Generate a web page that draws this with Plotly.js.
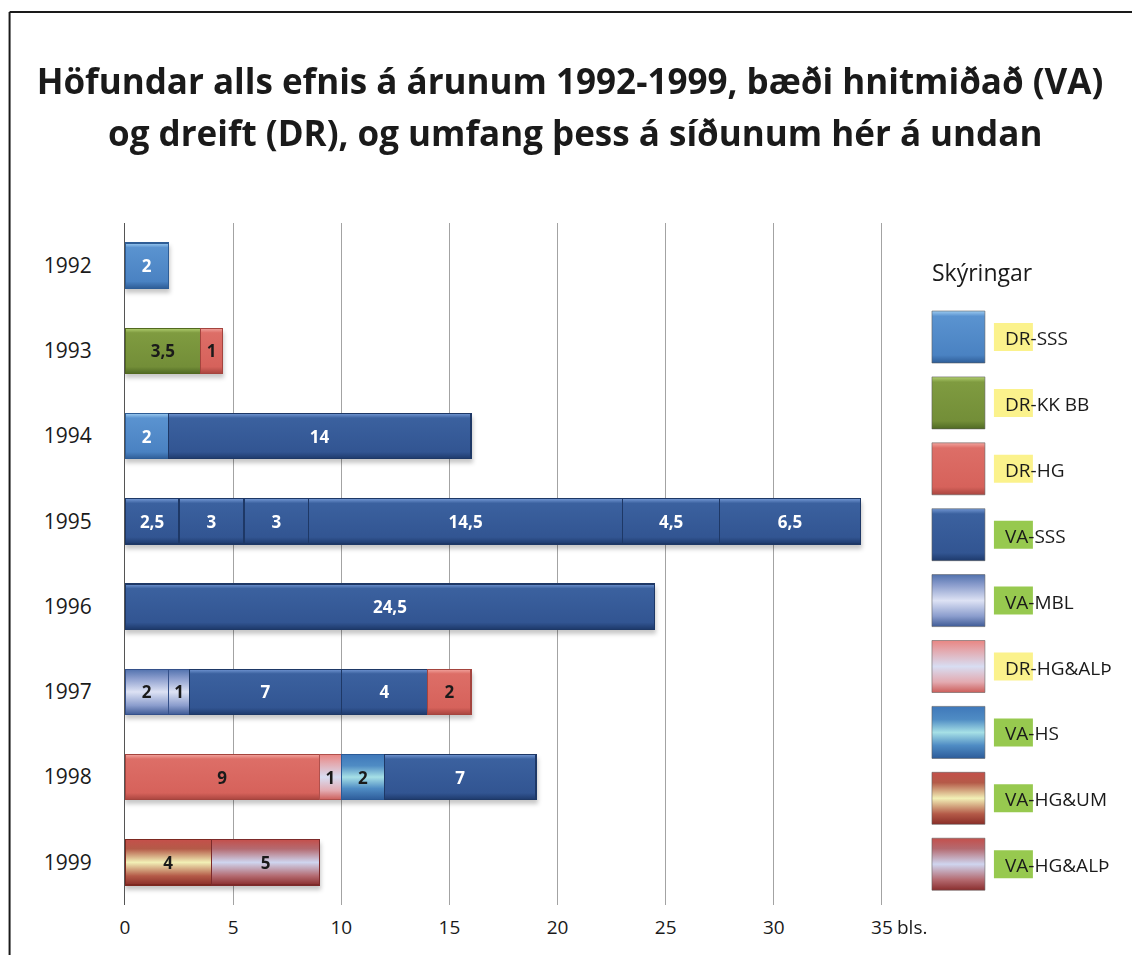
<!DOCTYPE html>
<html>
<head>
<meta charset="utf-8">
<script src="https://cdn.plot.ly/plotly-3.0.1.min.js"></script>
<style>
  html, body { margin: 0; padding: 0; background: #ffffff; }
  #chart { width: 1132px; height: 955px; }
</style>
</head>
<body>
<div id="chart"></div>
<script>
// ---------------- DATA ----------------
const years = ['1992', '1993', '1994', '1995', '1996', '1997', '1998', '1999'];
const seriesNames = ['DR-SSS', 'DR-KK BB', 'DR-HG', 'VA-SSS', 'VA-MBL', 'DR-HG&ALÞ', 'VA-HS', 'VA-HG&UM', 'VA-HG&ALÞ'];

// segments of each bar, left to right: values and the series each one belongs to
const val1992 = [2];                          const ser1992 = ['DR-SSS'];
const val1993 = [3.5, 1];                     const ser1993 = ['DR-KK BB', 'DR-HG'];
const val1994 = [2, 14];                      const ser1994 = ['DR-SSS', 'VA-SSS'];
const val1995 = [2.5, 3, 3, 14.5, 4.5, 6.5];  const ser1995 = ['VA-SSS', 'VA-SSS', 'VA-SSS', 'VA-SSS', 'VA-SSS', 'VA-SSS'];
const val1996 = [24.5];                       const ser1996 = ['VA-SSS'];
const val1997 = [2, 1, 7, 4, 2];              const ser1997 = ['VA-MBL', 'VA-MBL', 'VA-SSS', 'VA-SSS', 'DR-HG'];
const val1998 = [9, 1, 2, 7];                 const ser1998 = ['DR-HG', 'DR-HG&ALÞ', 'VA-HS', 'VA-SSS'];
const val1999 = [4, 5];                       const ser1999 = ['VA-HG&UM', 'VA-HG&ALÞ'];

const xTickVals = [0, 5, 10, 15, 20, 25, 30, 35];
const xTickText = ['0', '5', '10', '15', '20', '25', '30', '35'];
const xUnit = 'bls.';
const titleLine1 = 'Höfundar alls efnis á árunum 1992-1999, bæði hnitmiðað (VA)';
const titleLine2 = 'og dreift (DR), og umfang þess á síðunum hér á undan';
const legendTitle = 'Skýringar';

// ---------------- STYLE ----------------
const styles = {
  'DR-SSS':    { base: '#4f87c6', text: '#ffffff', edge: '#2e5d96', stops: [[0, '#9ccaf0'], [0.1, '#5a93d0'], [0.85, '#4a82c2'], [1, '#2f5e98']] },
  'DR-KK BB':  { base: '#77923b', text: '#1a1a1a', edge: '#52691f', stops: [[0, '#b2d070'], [0.1, '#7f9b40'], [0.85, '#738e38'], [1, '#506a24']] },
  'DR-HG':     { base: '#d9665f', text: '#1a1a1a', edge: '#a4443e', stops: [[0, '#f2a49e'], [0.1, '#dd6e67'], [0.85, '#d6625b'], [1, '#a9453f']] },
  'VA-SSS':    { base: '#345895', text: '#ffffff', edge: '#1e3866', stops: [[0, '#7196d2'], [0.1, '#3b619f'], [0.85, '#325592'], [1, '#1e3a6c']] },
  'VA-MBL':    { base: '#7d8fc3', text: '#1a1a1a', edge: '#34508a', stops: [[0, '#5272ae'], [0.2, '#8b9dcd'], [0.5, '#dde2f4'], [0.8, '#8b9dcd'], [1, '#3f5b96']] },
  'DR-HG&ALÞ': { base: '#e09a9c', text: '#1a1a1a', edge: '#b0504c', stops: [[0, '#e98683'], [0.2, '#e3aab0'], [0.5, '#d8ddf2'], [0.8, '#e3aab0'], [1, '#cc5e5a']] },
  'VA-HS':     { base: '#5b9ac8', text: '#1a1a1a', edge: '#2a5a96', stops: [[0, '#3f78ba'], [0.25, '#4f8cc4'], [0.5, '#a6e0e6'], [0.75, '#4f8cc4'], [1, '#2d5c9a']] },
  'VA-HG&UM':  { base: '#c8805c', text: '#1a1a1a', edge: '#7c2820', stops: [[0, '#c4504a'], [0.2, '#b45a48'], [0.5, '#f2f0b6'], [0.8, '#b45a48'], [1, '#8a2e28']] },
  'VA-HG&ALÞ': { base: '#b07884', text: '#1a1a1a', edge: '#7c2a2a', stops: [[0, '#c4504c'], [0.2, '#b46a70'], [0.5, '#cfd5ef'], [0.8, '#b46a70'], [1, '#8a2e2e']] }
};
const highlight = { DR: '#fbf28c', VA: '#97c94f' };
const FONT = 'Open Sans, Noto Sans, sans-serif';

// plot area in page pixels (layout only)
const PL = 124.5, PR = 883, PT = 223, PB = 905;
const W = 1132, H = 955;
const px = v => (v - PL) / (PR - PL);
const py = v => (PB - v) / (PB - PT);

// ---------------- TRACES ----------------
const valsByYear = [val1992, val1993, val1994, val1995, val1996, val1997, val1998, val1999];
const serByYear  = [ser1992, ser1993, ser1994, ser1995, ser1996, ser1997, ser1998, ser1999];
const nLayers = Math.max(...valsByYear.map(a => a.length));
const fmt = v => String(v).replace('.', ',');

const traces = [];
for (let k = 0; k < nLayers; k++) {
  const x = [], color = [], edge = [], text = [], tcol = [];
  years.forEach((yr, j) => {
    const v = valsByYear[j][k];
    const s = serByYear[j][k];
    if (v === undefined) {
      x.push(null); color.push('#ffffff'); edge.push('rgba(0,0,0,0)'); text.push(''); tcol.push('#000');
    } else {
      x.push(v); color.push(styles[s].base); edge.push(styles[s].edge); text.push(fmt(v)); tcol.push(styles[s].text);
    }
  });
  traces.push({
    type: 'bar', orientation: 'h', y: years, x: x,
    width: 0.53,
    marker: { color: color, line: { color: edge, width: 1.2 } },
    text: text, textposition: 'inside', insidetextanchor: 'middle', textangle: 0,
    constraintext: 'none',
    textfont: { family: FONT, size: 17, weight: 700, color: tcol },
    hoverinfo: 'skip', showlegend: false
  });
}

// ---------------- LEGEND (shapes + annotations) ----------------
const shapes = [];
const annotations = [];
const legendTop = 337, legendStep = 65.9;
seriesNames.forEach((name, i) => {
  const c = legendTop + i * legendStep;
  shapes.push({ type: 'rect', xref: 'paper', yref: 'paper', layer: 'above',
    x0: px(932), x1: px(985), y0: py(c + 26), y1: py(c - 26),
    fillcolor: styles[name].base, line: { color: 'rgba(90,90,90,0.55)', width: 1 } });
  const pre = name.split('-')[0];
  shapes.push({ type: 'rect', xref: 'paper', yref: 'paper', layer: 'above',
    x0: px(994), x1: px(1033), y0: py(c + 14), y1: py(c - 14),
    fillcolor: highlight[pre], line: { width: 0 } });
  annotations.push({ xref: 'paper', yref: 'paper', x: px(1003), y: py(c + 1),
    xanchor: 'left', yanchor: 'middle', showarrow: false, text: name,
    font: { family: FONT, size: 19, color: '#1a1a1a' } });
});
annotations.push({ xref: 'paper', yref: 'paper', x: px(930), y: py(272),
  xanchor: 'left', yanchor: 'middle', showarrow: false, text: legendTitle,
  font: { family: FONT, size: 23, color: '#1a1a1a' } });

// unit after the last x tick
annotations.push({ xref: 'x', yref: 'paper', x: xTickVals[xTickVals.length - 1], y: py(927),
  xanchor: 'left', yanchor: 'middle', xshift: 13, showarrow: false, text: xUnit,
  font: { family: FONT, size: 19, color: '#1a1a1a' } });

// second title line
annotations.push({ xref: 'paper', yref: 'paper', x: px(575), y: py(133),
  xanchor: 'center', yanchor: 'middle', showarrow: false, text: titleLine2,
  font: { family: FONT, size: 35, weight: 700, color: '#1a1a1a' } });

// outer frame (top and left edges visible)
shapes.push({ type: 'line', xref: 'paper', yref: 'paper', layer: 'above',
  x0: px(9), x1: px(1140), y0: py(12), y1: py(12), line: { color: '#1a1a1a', width: 2 } });
shapes.push({ type: 'line', xref: 'paper', yref: 'paper', layer: 'above',
  x0: px(9), x1: px(9), y0: py(12), y1: py(965), line: { color: '#1a1a1a', width: 2 } });

const layout = {
  width: W, height: H,
  paper_bgcolor: '#ffffff', plot_bgcolor: '#ffffff',
  margin: { l: PL, r: W - PR, t: PT, b: H - PB, pad: 0 },
  barmode: 'stack',
  showlegend: false,
  title: { text: titleLine1, xref: 'container', yref: 'container', x: 570 / W, xanchor: 'center',
    y: 1 - 82 / H, yanchor: 'middle', font: { family: FONT, size: 35, weight: 700, color: '#1a1a1a' } },
  xaxis: {
    range: [0, 35.05], tickmode: 'array', tickvals: xTickVals, ticktext: xTickText,
    showgrid: true, gridcolor: '#a3a3a3', gridwidth: 1, zeroline: false,
    showline: false, ticks: '', ticklabelstandoff: 9,
    tickfont: { family: FONT, size: 19, color: '#1a1a1a' }, fixedrange: true
  },
  yaxis: {
    type: 'category', categoryorder: 'array', categoryarray: years, autorange: 'reversed',
    showgrid: false, zeroline: false, showline: true, linecolor: '#555555', linewidth: 1,
    ticks: '', ticklabelstandoff: 28,
    tickfont: { family: FONT, size: 21, color: '#1a1a1a' }, fixedrange: true
  },
  shapes: shapes,
  annotations: annotations
};

function hexToRgb(h) {
  const n = parseInt(h.slice(1), 16);
  return 'rgb(' + ((n >> 16) & 255) + ',' + ((n >> 8) & 255) + ',' + (n & 255) + ')';
}

function applyGradients(gd) {
  const NS = 'http://www.w3.org/2000/svg';
  const svg = gd.querySelector('.main-svg');
  let defs = svg.querySelector('defs');
  if (!defs) { defs = document.createElementNS(NS, 'defs'); svg.insertBefore(defs, svg.firstChild); }
  const map = {};
  seriesNames.forEach((name, i) => {
    const lg = document.createElementNS(NS, 'linearGradient');
    lg.setAttribute('id', 'sergrad' + i);
    lg.setAttribute('x1', '0'); lg.setAttribute('y1', '0');
    lg.setAttribute('x2', '0'); lg.setAttribute('y2', '1');
    styles[name].stops.forEach(([off, col]) => {
      const st = document.createElementNS(NS, 'stop');
      st.setAttribute('offset', off);
      st.setAttribute('stop-color', col);
      lg.appendChild(st);
    });
    defs.appendChild(lg);
    map[hexToRgb(styles[name].base)] = 'url(#sergrad' + i + ')';
  });
  gd.querySelectorAll('.barlayer path, .shapelayer path').forEach(p => {
    const f = (p.style.fill || '').replace(/\s/g, '');
    if (map[f]) p.style.fill = map[f];
  });
  const bl = gd.querySelector('.barlayer');
  if (bl) bl.style.filter = 'drop-shadow(1px 4px 2px rgba(0,0,0,0.22))';
}

Plotly.newPlot('chart', traces, layout, { staticPlot: true, displayModeBar: false })
  .then(applyGradients);
</script>
</body>
</html>
